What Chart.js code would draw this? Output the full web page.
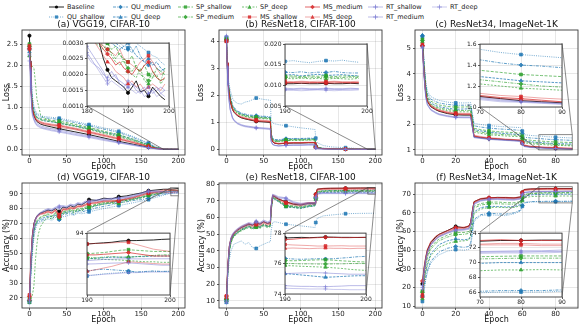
<!DOCTYPE html>
<html><head><meta charset="utf-8">
<script src="https://cdn.jsdelivr.net/npm/chart.js@4.4.1/dist/chart.umd.min.js"></script>
<style>
html,body{margin:0;padding:0;background:#fff;}
body{width:581px;height:326px;position:relative;overflow:hidden;font-family:"DejaVu Sans",sans-serif;}
canvas{position:absolute;}
.lg{position:absolute;height:10px;display:flex;align-items:center;font-size:6.5px;color:#222;white-space:nowrap;}
.lg svg{margin-right:3px;display:block;}
</style></head><body>
<div id="legend"></div>
<script>
const names = ['Baseline','QU_shallow','QU_medium','QU_deep','SP_shallow','SP_medium','SP_deep','MS_shallow','MS_medium','MS_deep','RT_shallow','RT_medium','RT_deep'];

// ---------- (a) VGG19 CIFAR-10 loss ----------
const epochsA = [0,1,2,3,4,6,8,10,15,20,30,40,60,80,100,120,140,160,170,180,190,200];
const lossA = [
 [2.70,2.10,1.55,1.15,0.95,0.80,0.72,0.66,0.60,0.57,0.53,0.49,0.42,0.35,0.27,0.19,0.12,0.05,0.02,0.004,0.0015,0.0012],
 [2.42,2.25,1.95,1.55,1.25,1.02,0.92,0.86,0.80,0.78,0.76,0.74,0.67,0.59,0.51,0.43,0.30,0.15,0.06,0.010,0.0028,0.0023],
 [2.38,2.18,1.85,1.45,1.18,0.97,0.88,0.82,0.77,0.75,0.73,0.71,0.64,0.56,0.48,0.40,0.28,0.13,0.05,0.008,0.0028,0.0022],
 [2.32,2.12,1.72,1.32,1.07,0.91,0.82,0.76,0.71,0.68,0.65,0.62,0.56,0.49,0.41,0.34,0.23,0.11,0.04,0.006,0.0029,0.0021],
 [2.50,2.32,1.82,1.32,1.06,0.89,0.81,0.77,0.73,0.71,0.69,0.67,0.60,0.52,0.43,0.35,0.24,0.10,0.04,0.006,0.0024,0.0020],
 [2.45,2.26,1.76,1.26,1.01,0.87,0.79,0.74,0.70,0.68,0.66,0.64,0.57,0.49,0.40,0.32,0.21,0.09,0.035,0.005,0.0022,0.0022],
 [2.22,2.06,2.00,1.98,1.97,1.93,1.60,1.20,0.82,0.74,0.67,0.62,0.55,0.47,0.38,0.30,0.20,0.08,0.03,0.005,0.0025,0.0019],
 [2.46,2.10,1.60,1.20,0.98,0.84,0.76,0.71,0.66,0.63,0.60,0.58,0.51,0.43,0.35,0.27,0.18,0.07,0.03,0.005,0.0024,0.0021],
 [2.40,2.05,1.55,1.15,0.95,0.82,0.74,0.69,0.64,0.61,0.58,0.56,0.49,0.41,0.33,0.25,0.16,0.07,0.025,0.005,0.0021,0.0019],
 [2.38,2.00,1.50,1.12,0.93,0.80,0.72,0.67,0.62,0.59,0.56,0.53,0.47,0.39,0.31,0.23,0.15,0.06,0.02,0.004,0.0017,0.0017],
 [2.26,1.95,1.45,1.05,0.86,0.74,0.66,0.61,0.56,0.53,0.49,0.46,0.39,0.32,0.25,0.17,0.11,0.04,0.015,0.004,0.0016,0.0015],
 [2.22,1.90,1.40,1.00,0.83,0.71,0.63,0.58,0.53,0.50,0.46,0.43,0.36,0.30,0.23,0.16,0.10,0.04,0.012,0.003,0.0017,0.0015],
 [2.10,1.85,1.35,0.98,0.80,0.69,0.61,0.56,0.51,0.48,0.44,0.41,0.34,0.28,0.21,0.15,0.09,0.03,0.010,0.003,0.0015,0.0013]
];
const epochsInA = [180,181,182,183,184,185,186,187,188,189,190,191,192,193,194,195,196,197,198,199];
const lossInA = [
 [0.0036,0.0034,0.0032,0.0030,0.0025,0.00215,0.0019,0.0018,0.0017,0.0016,0.00142,0.0016,0.0018,0.00145,0.0015,0.00131,0.0016,0.00145,0.0013,0.0012],
 [0.0040,0.0039,0.0037,0.0036,0.0034,0.0033,0.0032,0.0031,0.0030,0.0029,0.00285,0.0031,0.0030,0.0029,0.0028,0.0027,0.0026,0.00255,0.0024,0.0023],
 [0.0038,0.0037,0.0035,0.0034,0.0033,0.0032,0.0031,0.0030,0.0029,0.0028,0.0028,0.0027,0.0029,0.0026,0.0024,0.0023,0.0024,0.0022,0.0021,0.0022],
 [0.0036,0.0035,0.0034,0.0033,0.0032,0.0031,0.0030,0.0029,0.0028,0.0029,0.0030,0.0028,0.0026,0.0025,0.0024,0.0025,0.0023,0.0024,0.0022,0.0021],
 [0.0035,0.0034,0.0033,0.0032,0.0031,0.0030,0.0028,0.0029,0.0026,0.0025,0.0024,0.0026,0.0022,0.0021,0.0023,0.0020,0.0019,0.0022,0.0021,0.0020],
 [0.0034,0.0033,0.0031,0.0030,0.0029,0.0028,0.0027,0.0025,0.0027,0.0024,0.0022,0.0021,0.0023,0.0020,0.0019,0.0018,0.0021,0.0019,0.0018,0.0022],
 [0.0033,0.0032,0.0030,0.0029,0.0028,0.0030,0.0026,0.0024,0.0023,0.0025,0.0021,0.0020,0.0019,0.0022,0.0018,0.0017,0.0019,0.0020,0.0017,0.0019],
 [0.0034,0.0033,0.0032,0.0031,0.0029,0.0028,0.0027,0.0026,0.0028,0.0025,0.0024,0.0023,0.0022,0.0024,0.0025,0.0026,0.0024,0.0022,0.0020,0.0021],
 [0.0033,0.0032,0.0031,0.0030,0.0028,0.00265,0.0025,0.0023,0.0024,0.0022,0.0021,0.0020,0.0022,0.0021,0.0023,0.0024,0.0021,0.0019,0.0018,0.0019],
 [0.0032,0.0031,0.0030,0.0028,0.0026,0.0024,0.0023,0.0021,0.0020,0.0019,0.0017,0.0018,0.0016,0.0017,0.0015,0.0016,0.0017,0.0016,0.0015,0.0017],
 [0.0029,0.0027,0.0025,0.0023,0.0021,0.0018,0.0019,0.0020,0.0017,0.0016,0.0018,0.0017,0.0016,0.0015,0.0016,0.0014,0.0015,0.0016,0.0014,0.0015],
 [0.0027,0.0025,0.0023,0.0022,0.0020,0.0019,0.0021,0.0019,0.0018,0.0017,0.0016,0.0017,0.0015,0.0014,0.0015,0.0016,0.0014,0.0015,0.0016,0.0015],
 [0.0026,0.0024,0.0023,0.0021,0.0019,0.0017,0.0018,0.0017,0.0016,0.0015,0.0016,0.0015,0.0014,0.0015,0.0013,0.0014,0.0015,0.0013,0.0014,0.0013]
];

// ---------- (b) ResNet18 CIFAR-100 loss ----------
const epochsB = [0,1,2,3,5,8,10,15,20,25,30,40,50,59,60,62,65,70,80,90,100,110,119,120,122,130,140,160,180,200];
const lossB = [
 [4.05,3.2,2.6,2.2,1.78,1.48,1.38,1.24,1.17,1.13,1.1,1.04,1.02,1.0,0.44,0.29,0.23,0.21,0.23,0.24,0.24,0.25,0.25,0.085,0.05,0.033,0.025,0.017,0.012,0.0104],
 [4.0,3.4,2.9,2.5,2.2,1.9,1.8,1.7,1.68,1.75,1.78,1.9,1.85,1.82,1.1,0.98,0.95,0.92,0.88,0.84,0.8,0.77,0.74,0.42,0.25,0.15,0.1,0.07,0.03,0.016],
 [4.15,3.4,2.8,2.4,1.98,1.66,1.56,1.42,1.35,1.31,1.28,1.25,1.23,1.21,0.6,0.42,0.37,0.36,0.4,0.41,0.41,0.42,0.42,0.14,0.08,0.05,0.035,0.024,0.016,0.013],
 [4.1,3.35,2.75,2.35,1.95,1.63,1.53,1.39,1.32,1.28,1.25,1.22,1.2,1.18,0.58,0.4,0.35,0.34,0.38,0.39,0.39,0.4,0.4,0.13,0.075,0.045,0.032,0.022,0.015,0.0122],
 [4.1,3.3,2.7,2.3,1.92,1.6,1.5,1.37,1.3,1.26,1.23,1.2,1.18,1.16,0.56,0.38,0.33,0.32,0.36,0.37,0.37,0.38,0.38,0.12,0.07,0.042,0.031,0.021,0.0145,0.0122],
 [4.08,3.28,2.68,2.28,1.9,1.58,1.48,1.35,1.28,1.24,1.21,1.18,1.16,1.14,0.54,0.36,0.31,0.3,0.34,0.35,0.35,0.36,0.36,0.115,0.068,0.04,0.03,0.02,0.014,0.012],
 [4.05,3.25,2.65,2.25,1.88,1.56,1.46,1.33,1.26,1.22,1.19,1.16,1.14,1.12,0.52,0.35,0.3,0.29,0.33,0.34,0.34,0.35,0.35,0.11,0.065,0.039,0.029,0.019,0.0138,0.0117],
 [4.02,3.22,2.62,2.22,1.82,1.52,1.42,1.29,1.22,1.18,1.15,1.1,1.08,1.06,0.47,0.31,0.25,0.23,0.25,0.26,0.26,0.27,0.27,0.095,0.057,0.036,0.028,0.019,0.0132,0.0109],
 [4.0,3.2,2.6,2.2,1.8,1.5,1.4,1.26,1.19,1.15,1.12,1.07,1.05,1.03,0.45,0.3,0.24,0.22,0.24,0.25,0.25,0.26,0.26,0.09,0.055,0.035,0.027,0.018,0.013,0.0107],
 [3.98,3.18,2.58,2.18,1.79,1.49,1.39,1.25,1.18,1.14,1.11,1.05,1.03,1.01,0.44,0.29,0.235,0.215,0.235,0.245,0.245,0.255,0.255,0.088,0.053,0.034,0.026,0.0175,0.0127,0.0106],
 [4.2,3.1,2.4,1.95,1.5,1.2,1.1,0.98,0.92,0.88,0.86,0.82,0.8,0.78,0.32,0.2,0.16,0.14,0.16,0.17,0.17,0.18,0.18,0.06,0.035,0.022,0.017,0.012,0.0098,0.0092],
 [4.18,3.08,2.38,1.93,1.48,1.18,1.08,0.96,0.9,0.86,0.84,0.8,0.78,0.76,0.31,0.19,0.155,0.135,0.155,0.165,0.165,0.175,0.175,0.058,0.034,0.021,0.0165,0.0118,0.0096,0.009],
 [4.15,3.05,2.35,1.9,1.46,1.16,1.06,0.94,0.88,0.84,0.82,0.78,0.76,0.74,0.3,0.18,0.15,0.13,0.15,0.16,0.16,0.17,0.17,0.055,0.033,0.02,0.016,0.0115,0.0094,0.0088]
];
const epochsInB = [190,191,192,193,194,195,196,197,198,199];
const lossInB = [
 [0.0104,0.0104,0.0105,0.0104,0.0104,0.0105,0.0104,0.0104,0.0105,0.0104],
 [0.0158,0.0160,0.0157,0.0155,0.0158,0.0160,0.0159,0.0161,0.0158,0.0156],
 [0.0132,0.0131,0.0133,0.0130,0.0132,0.0131,0.0134,0.0131,0.0130,0.0130],
 [0.0125,0.0126,0.0123,0.0125,0.0127,0.0124,0.0125,0.0126,0.0124,0.0123],
 [0.0122,0.0123,0.0121,0.0123,0.0122,0.0124,0.0121,0.0123,0.0122,0.0122],
 [0.0119,0.0120,0.0118,0.0120,0.0119,0.0120,0.0118,0.0119,0.0120,0.0119],
 [0.0117,0.0116,0.0118,0.0116,0.0117,0.0115,0.0117,0.0116,0.0115,0.0117],
 [0.0110,0.0109,0.0110,0.0109,0.0110,0.0109,0.0110,0.0109,0.0109,0.0110],
 [0.0107,0.0107,0.0108,0.0107,0.0107,0.0107,0.0108,0.0107,0.0107,0.0107],
 [0.0105,0.0106,0.0105,0.0105,0.0106,0.0105,0.0105,0.0106,0.0105,0.0106],
 [0.0093,0.0092,0.0093,0.0092,0.0092,0.0093,0.0092,0.0092,0.0093,0.0092],
 [0.0090,0.0090,0.0091,0.0090,0.0090,0.0091,0.0090,0.0090,0.0091,0.0091],
 [0.0088,0.0088,0.0087,0.0088,0.0089,0.0088,0.0087,0.0088,0.0088,0.0089]
];

// ---------- (c) ResNet34 ImageNet-1K loss ----------
const epochsC = [0,1,2,3,5,8,10,15,20,25,29,30,31,35,40,45,50,55,59,60,61,65,70,75,80,85,90];
const lossC = [
 [5.1,4.0,3.2,2.9,2.7,2.58,2.52,2.43,2.38,2.37,2.37,1.94,1.52,1.48,1.44,1.42,1.4,1.38,1.36,1.26,1.16,1.12,1.1,1.08,1.06,1.05,1.04],
 [5.45,4.5,3.7,3.3,3.1,3.0,2.95,2.88,2.85,2.85,2.86,2.45,2.05,2.0,1.96,1.93,1.91,1.89,1.88,1.74,1.6,1.57,1.55,1.52,1.5,1.485,1.47],
 [5.5,4.4,3.6,3.2,3.0,2.9,2.85,2.79,2.76,2.76,2.77,2.36,1.95,1.9,1.86,1.83,1.81,1.79,1.77,1.64,1.5,1.47,1.45,1.42,1.40,1.39,1.375],
 [5.5,4.3,3.45,3.05,2.85,2.75,2.7,2.64,2.6,2.61,2.62,2.21,1.8,1.75,1.7,1.67,1.64,1.62,1.6,1.48,1.37,1.32,1.29,1.27,1.25,1.24,1.23],
 [5.35,4.3,3.5,3.1,2.92,2.82,2.77,2.71,2.68,2.69,2.7,2.27,1.85,1.8,1.75,1.72,1.7,1.68,1.66,1.54,1.42,1.38,1.35,1.33,1.31,1.3,1.29],
 [5.3,4.2,3.4,3.0,2.8,2.7,2.65,2.59,2.55,2.55,2.56,2.15,1.75,1.7,1.65,1.62,1.6,1.58,1.57,1.45,1.33,1.28,1.26,1.24,1.22,1.2,1.19],
 [5.25,4.15,3.35,2.95,2.76,2.66,2.61,2.54,2.5,2.5,2.5,2.1,1.7,1.65,1.6,1.57,1.55,1.53,1.52,1.4,1.29,1.24,1.22,1.2,1.18,1.17,1.16],
 [5.15,4.05,3.25,2.95,2.76,2.64,2.58,2.5,2.45,2.44,2.44,2.01,1.58,1.53,1.48,1.46,1.43,1.41,1.4,1.3,1.2,1.15,1.13,1.11,1.10,1.085,1.075],
 [5.1,4.02,3.22,2.92,2.73,2.61,2.55,2.47,2.42,2.41,2.41,1.98,1.55,1.5,1.46,1.44,1.41,1.39,1.38,1.28,1.18,1.13,1.11,1.09,1.08,1.065,1.05],
 [5.12,4.0,3.2,2.9,2.71,2.59,2.53,2.45,2.4,2.39,2.39,1.96,1.54,1.49,1.45,1.43,1.4,1.38,1.37,1.27,1.17,1.12,1.1,1.08,1.07,1.055,1.045],
 [5.05,3.9,3.1,2.8,2.6,2.48,2.42,2.35,2.3,2.3,2.3,1.9,1.5,1.47,1.43,1.41,1.39,1.37,1.35,1.25,1.15,1.11,1.09,1.07,1.055,1.045,1.035],
 [5.05,3.88,3.08,2.78,2.58,2.46,2.4,2.33,2.28,2.28,2.28,1.88,1.49,1.46,1.42,1.4,1.38,1.36,1.34,1.24,1.14,1.1,1.08,1.06,1.05,1.04,1.03],
 [5.0,3.85,3.05,2.76,2.56,2.44,2.38,2.31,2.27,2.26,2.26,1.87,1.48,1.45,1.41,1.39,1.37,1.35,1.33,1.23,1.13,1.09,1.07,1.05,1.045,1.035,1.025]
];

// ---------- (d) VGG19 CIFAR-10 accuracy ----------
const epochsD = [0,2,4,6,8,10,12,15,20,25,30,35,40,45,50,55,60,65,70,75,80,90,100,110,120,130,140,150,160,170,180,190,200];
const accD = [
 [18,45,62,70,73,75,76,77,78,79,78.5,80,78,81,80.5,82,81,83,82.5,84,86,85.5,87,86.5,88,88.5,89.5,90.5,92,92.5,93,93.05,93.48],
 [17,35,50,60,66,69,70,71,72,73,72,74,73,74.5,75,76,75.5,77,76.5,77,77.8,79,80,81,82,83,84,85,86,87.5,89,90.26,90.66],
 [18,38,54,63,68,70,71,72,73,74.5,73,75.5,72.5,76,76.5,77,76,78,77.5,78.5,79,80.5,81.5,82.5,84,84.5,85.5,86,87,88.5,89.5,90.67,90.67],
 [19,40,56,65,69,71,72,73,74,75,74.5,76,74,77,77.5,78,77.5,79,78.5,80,80.5,82,83,84,85,85.5,86.5,87.5,88.5,89.5,90.5,91.76,92.0],
 [20,42,58,66,70,72,73,74.5,75.5,76.5,75,77.5,75,78,78.5,79.5,78.5,80,80,81,81.5,83,84,84.5,85.5,86,87,88,89.5,90.5,91.5,92.2,92.4],
 [18,40,56,65,69,71,72.5,74,75,76,74.5,77,74,77.5,78,79,78,79.5,79.5,80.5,81,82.5,83.5,84,85,85.5,86.5,87.5,89,90,91,91.9,92.1],
 [17,19,22,28,45,56,63,68,72,74,73,75.5,73.5,76.5,77,78,77,79,78.5,80,80.4,82,83,83.5,83.3,85,86,87,88.5,89.5,90.5,91.8,91.45],
 [22,48,63,70,73,75,76,77,77.5,78.5,77.5,79.5,76,80,80,81,80.5,82,82,83,84.4,84.5,85.5,85.5,85,87,88,89.5,91,91.5,92.5,93.05,92.4],
 [21,47,62,69,72.5,74.5,75.5,76.5,77,78,77,79,74.4,79.5,79.5,80.5,80,81.5,81.5,82.5,83.5,84,85,85,85.5,86.5,87.5,89,90.5,91,91.8,92.1,92.0],
 [19,46,61,68,72,74,75,76,76.5,77.5,76.5,78.5,75,79,79,80,79.5,81,81,82,83,83.5,84.5,84.5,85,86,87,88.5,90,90.5,91,90.67,91.3],
 [17,44,61,69,73,75,76.5,77.5,79,80,79.5,81,81.8,82,81.5,83,82.5,84,83.5,85,85,86,86.5,87,87,88,89,90.5,92,92,91.5,91.6,91.76],
 [18,43,60,68,72.5,74.5,76,77,78.5,79.5,79,80.5,81,81.5,81,82.5,82,83.5,83,84.5,84.5,85.5,86,86.5,87,87.5,88.5,90,91.5,91.5,91.2,91.3,91.2],
 [19,42,59,67,72,74,75.5,76.5,78,79,78.5,80,80.5,81,80.5,82,81.5,83,82.5,84,84,85,85.5,86,86.5,87,88,89.5,91,91,90.5,90.3,90.6]
];
const epochsInD = [190,191,192,193,194,195,196,197,198,199,200];
const accInD = [
 [93.05,93.1,93.15,93.2,93.3,93.34,93.35,93.38,93.4,93.45,93.48],
 [90.26,90.35,90.45,90.5,90.55,90.6,90.6,90.62,90.65,90.66,90.66],
 [90.67,90.8,90.85,90.8,90.75,90.7,90.6,90.65,90.7,90.65,90.67],
 [91.76,91.8,91.85,91.9,91.9,91.9,91.95,91.95,92.0,92.0,92.0],
 [92.2,92.25,92.3,92.4,92.5,92.55,92.5,92.45,92.4,92.4,92.4],
 [91.9,91.85,91.9,91.95,91.9,91.9,91.95,92.0,92.05,92.1,92.1],
 [91.8,91.75,91.7,91.68,91.65,91.6,91.55,91.5,91.5,91.45,91.45],
 [93.05,93.1,93.1,93.15,93.18,93.2,93.0,92.8,92.6,92.5,92.4],
 [92.1,92.1,92.15,92.2,92.25,92.3,92.2,92.1,92.0,92.0,92.0],
 [90.67,90.8,90.95,91.1,91.3,91.5,91.45,91.4,91.35,91.3,91.3],
 [91.6,91.65,91.7,91.72,91.75,91.76,91.75,91.75,91.76,91.76,91.76],
 [91.3,91.32,91.35,91.38,91.4,91.4,91.35,91.3,91.25,91.2,91.2],
 [90.3,90.35,90.4,90.45,90.5,90.55,90.55,90.6,90.6,90.6,90.6]
];

// ---------- (e) ResNet18 CIFAR-100 accuracy ----------
const epochsE = [0,2,4,6,8,10,15,20,25,30,35,40,45,50,55,59,60,62,65,70,80,90,100,110,119,120,122,130,140,160,180,200];
const accE = [
 [11,32,43,47,49,50.5,52.5,54,55,56,55.5,57,56,57.5,56.5,57,66,73,72.5,71,69.5,68,67.5,68.5,68.5,74,77,77.4,77.5,77.6,77.7,77.72],
 [10,25,35,40,42,44,45,46,44,45,42,41.5,43,44,45,45.5,52,57,57.5,57,56,55.5,55,54.5,54,57,59.5,61,61.5,62.3,62.5,62.6],
 [10,30,41,46,48,49.5,51.5,53,54,55,54,55,54.5,56,55,55.5,64,72,71.5,70,67,66.5,66,67,67.5,72,75.5,76,76.2,76.3,76.4,76.47],
 [9,29,40,45,47.5,49,51,52.5,53.5,54.5,53.5,54.5,54,55.5,54.5,55,63.5,71.5,71,69.5,66.4,66,65.5,66.5,67,71,74.5,75,75.1,75.2,75.2,75.2],
 [12,30,41,45.5,48,49.5,51.5,53,54,55,54,54.5,54.5,56,55,55.5,64,72.5,72,70.5,67.4,67,66.5,67.5,68,72,75.5,76,76.1,76.1,76.1,76.1],
 [11,29.5,40.5,45,47.5,49,51,52.5,53.5,54.5,53.5,54.5,54,55.5,54.5,55,63.5,72,71.5,70,67,66.5,66,67,67.5,71.5,75.3,75.8,75.9,76,76,76.0],
 [10,29,40,44.5,47,48.5,50.5,52,53,54,53,54,53.5,55,54,54.5,63,71.5,71,69.5,66.5,66,65.5,66.5,67,71,75,75.5,75.5,75.6,75.6,75.55],
 [13,32,43,47,49,50.5,52.5,54,55,56,55,56.5,55.5,57,56,56.5,65.5,73,72.5,71,69,68,67.5,68.5,68.5,73.5,76.5,77,77.1,77.2,77.2,77.15],
 [13,32.5,43.5,47.5,49.5,51,53,54.5,55.5,56.5,55.5,56,56.5,57.5,56.5,57,66,73.5,73,71.5,69,68.5,68,69,69,74,77,77.5,77.6,77.6,77.7,77.72],
 [12,31.5,42.5,46.5,48.5,50,52,53.5,54.5,55.5,54.5,55.5,55,56.5,55.5,56,65,72.5,72,70.5,68.5,67.5,67,68,68,73,76.3,76.8,76.9,77,77,77.0],
 [9,31,43,48,50,51.5,53.5,55,56,57,56.5,58,57,58.5,57.5,58,67,74,73.5,72.5,71.8,69.5,68.5,69,69,72.5,74.8,75.1,75.2,75.3,75.3,75.3],
 [10,31,42.5,47.5,49.5,51,53,54.5,55.5,56.5,56,57.5,56.5,58,57,57.5,66.5,73.5,73,72,71.5,69,68,68.5,68.5,72,74.3,74.5,74.5,74.5,74.55,74.55],
 [9.5,30.5,42,47,49,50.5,52.5,54,55,56,55.5,57,56,57.5,56.5,57,66,73,72.5,71.5,71,68.5,67.5,68,68,71.5,74,74.3,74.3,74.3,74.3,74.28]
];
const epochsInE = [190,191,192,193,194,195,196,197,198,199,200];
const accInE = [
 [77.68,77.7,77.72,77.7,77.72,77.74,77.73,77.72,77.72,77.71,77.72],
 [62.5,62.55,62.5,62.6,62.55,62.6,62.6,62.55,62.6,62.6,62.6],
 [76.34,76.3,76.28,76.3,76.32,76.3,76.32,76.36,76.4,76.45,76.47],
 [75.34,75.3,75.25,75.2,75.15,75.1,75.12,75.15,75.18,75.2,75.2],
 [76.2,76.18,76.2,76.22,76.24,76.25,76.22,76.18,76.15,76.12,76.1],
 [76.0,76.0,75.98,75.98,75.97,75.97,75.98,75.98,76.0,76.0,76.0],
 [75.87,75.85,75.82,75.8,75.78,75.76,75.72,75.68,75.62,75.58,75.55],
 [77.25,77.22,77.2,77.18,77.15,77.15,77.16,77.17,77.15,77.15,77.15],
 [77.57,77.6,77.65,77.68,77.7,77.72,77.72,77.7,77.7,77.72,77.72],
 [77.0,77.02,77.0,76.98,77.0,77.02,77.0,77.0,76.98,77.0,77.0],
 [75.34,75.36,75.38,75.4,75.4,75.38,75.35,75.33,75.3,75.3,75.3],
 [74.55,74.52,74.5,74.5,74.48,74.48,74.5,74.52,74.55,74.55,74.55],
 [74.38,74.36,74.35,74.33,74.33,74.33,74.3,74.3,74.28,74.28,74.28]
];

// ---------- (f) ResNet34 ImageNet-1K accuracy ----------
const epochsF = [0,1,2,3,5,8,10,15,20,25,28,29,30,31,35,40,45,50,55,59,60,61,65,70,75,80,85,90];
const accF = [
 [22,30,36,40,44,47,48.5,50.5,52.7,52,53,55,61,66,67.5,68,68.3,68.2,68,68.5,71,72.5,72.8,72.9,73.0,73.0,73.05,73.05],
 [12.5,18,24,28,33,36,37.5,39.5,40.3,40,40.5,42.5,48,55.5,58.5,59,58.7,58.5,59.5,61,63.5,65.2,65.8,65.9,66,66.0,66.0,66.1],
 [15,20,25,29,34,37,39,41,42,41.5,42,44,50,56.5,59,59.8,59.5,59.3,60,61.5,64,65.5,66,66.1,66.2,66.2,66.2,66.3],
 [16,23,29,33,38,41,43,45,46,45.5,46,48,54,60.5,62.8,63.5,63.4,63.2,63.3,64.5,67,68.8,69.6,69.9,70,70.0,70.0,70.0],
 [18,27,33,37,41.5,44.5,46,48,49.5,49.5,50,52,58,63.5,65,65.7,65.8,65.5,65.4,66,68.5,69.8,70.5,70.8,70.85,70.9,70.9,70.9],
 [17.5,26,32,36,40.5,43.5,45,47,48.3,48.5,49,51,57,62.5,64.2,64.8,64.9,64.7,64.6,65.3,68,69.5,70.2,70.5,70.55,70.6,70.6,70.6],
 [14,22,28,32,37,40,41.5,43.5,44.7,45,45.5,47.5,53,59.5,62,62.9,63,62.8,62.9,63.8,66.5,68,68.7,68.9,69,69.0,69.05,69.0],
 [16,27,34,38.5,43,46,47.5,49.5,51.5,51.5,52,54,60,65.5,67,67.6,67.8,67.7,67.5,68,70.5,72,72.3,72.4,72.4,72.4,72.3,72.3],
 [23.5,31,36.5,40.5,44.5,47.5,48.5,50.5,52.2,52.3,53,55,61,66,67.7,68.2,68.2,68.3,68.1,68.6,71,72.5,72.8,73,73.1,73.0,73.0,73.0],
 [15,27,34,38.5,43.5,46.5,48,50,51.8,51.8,52.5,54.5,60.5,65.5,67.2,67.8,67.9,67.8,67.6,68.1,70.5,72,72.4,72.5,72.6,72.6,72.5,72.5],
 [20,29,35,39,43,46,47.5,49.5,51,51.2,51.8,54,60,65,66.8,67.5,67.6,67.4,67.3,67.8,70,71,71.4,71.5,71.55,71.6,71.6,71.7],
 [21,29,35,39,43,45.8,47.2,49.2,50.7,51,51.5,53.5,59.5,64.8,66.5,67.2,67.3,67.1,67,67.5,69.8,70.9,71.3,71.4,71.45,71.45,71.5,71.5],
 [19,28,34.5,38.5,42.5,45.5,47,49,50.4,50.7,51.2,53,59,64.5,66.3,67,67.1,66.9,66.8,67.3,69.6,70.7,71.1,71.25,71.3,71.3,71.3,71.4]
];

// tick labels
const ticksX200 = [0,50,100,150,200];
const ticksX90 = [0,20,40,60,80];
const ticksYA = [0,0.5,1,1.5,2,2.5];
const ticksYB = [0,1,2,3,4];
const ticksYC = [1,2,3,4,5];
const ticksYD = [20,30,40,50,60,70,80,90];
const ticksYE = [10,20,30,40,50,60,70,80];
const ticksYF = [10,20,30,40,50,60,70];
const ticksInAx = [180,190,200], ticksInAy = [0.001,0.0015,0.002,0.0025,0.003];
const ticksInBx = [190,200], ticksInBy = [0.005,0.01,0.015,0.02];
const ticksInCx = [70,80,90], ticksInCy = [1.0,1.2,1.4,1.6];
const ticksInDx = [190,200], ticksInDy = [94];
const ticksInEx = [190,200], ticksInEy = [74,76,78];
const ticksInFx = [70,80,90], ticksInFy = [66,68,70,72,74];

// ---------- styles ----------
const STY = {
 Baseline:  {c:'0,0,0',       a:0.85, ma:0.95,dash:[],            pt:'circle'},
 QU_shallow:{c:'31,119,180',  a:0.6,  ma:0.85,dash:[1,1.2],       pt:'rect'},
 QU_medium: {c:'31,119,180',  a:0.7,  ma:0.85,dash:[3,1.2,1,1.2], pt:'rectRot'},
 QU_deep:   {c:'31,119,180',  a:0.75, ma:0.85,dash:[2.5,1.2],     pt:'triangle'},
 SP_shallow:{c:'44,160,44',   a:0.65, ma:0.85,dash:[3,1.5],       pt:'rect'},
 SP_medium: {c:'44,160,44',   a:0.65, ma:0.85,dash:[3,1.2,1,1.2], pt:'rectRot'},
 SP_deep:   {c:'44,160,44',   a:0.65, ma:0.85,dash:[2,1.5],       pt:'triangle'},
 MS_shallow:{c:'214,39,40',   a:0.4,  ma:0.85,dash:[],            pt:'rect'},
 MS_medium: {c:'214,39,40',   a:0.7,  ma:0.85,dash:[],            pt:'rectRot'},
 MS_deep:   {c:'214,39,40',   a:0.4,  ma:0.85,dash:[],            pt:'triangle'},
 RT_shallow:{c:'120,120,210', a:0.5,  ma:0.75,dash:[],            pt:'cross'},
 RT_medium: {c:'120,120,210', a:0.5,  ma:0.75,dash:[],            pt:'cross'},
 RT_deep:   {c:'120,120,210', a:0.4,  ma:0.65,dash:[],            pt:'cross'}
};
const GRID = 'rgba(0,0,0,0.12)';
Chart.defaults.font.family = '"DejaVu Sans", sans-serif';
Chart.defaults.color = '#222';

function mkCanvas(l,t,w,h){
  const c=document.createElement('canvas');
  c.width=w; c.height=h;
  c.style.left=l+'px'; c.style.top=t+'px'; c.style.width=w+'px'; c.style.height=h+'px';
  document.body.appendChild(c); return c;
}

function buildDatasets(epochs, rows, marks){
  return names.map((n,i)=>{
    const s=STY[n];
    const r = s.pt==='circle' ? 1.6 : 2.0;
    return {
      label:n,
      data: epochs.map((e,j)=>({x:e,y:rows[i][j]})),
      borderColor:`rgba(${s.c},${s.a})`,
      backgroundColor:`rgba(${s.c},${s.ma})`,
      pointBorderColor:`rgba(${s.c},${s.ma})`,
      pointBackgroundColor:`rgba(${s.c},${s.ma})`,
      borderWidth:1, borderDash:s.dash, pointStyle:s.pt,
      pointRadius:(c)=> (c.raw && marks.includes(c.raw.x)) ? r : 0,
      pointHoverRadius:0, pointBorderWidth:0.8, tension:0, fill:false, clip:0, order:-i
    };
  });
}

const framePlugin = {
  id:'frame',
  beforeDraw(chart,args,o){
    if(!o.fill) return;
    const a=chart.chartArea, c=chart.ctx;
    c.save(); c.fillStyle='#fff'; c.fillRect(a.left,a.top,a.right-a.left,a.bottom-a.top); c.restore();
  },
  afterDatasetsDraw(chart,args,o){
    const c=chart.ctx, a=chart.chartArea;
    c.save();
    if(o.rect){
      const xs=chart.scales.x, ys=chart.scales.y, r=o.rect;
      const x0=xs.getPixelForValue(r.x0), x1=xs.getPixelForValue(r.x1);
      const yb=ys.getPixelForValue(r.y0), yt=ys.getPixelForValue(r.y1);
      c.strokeStyle='rgba(60,60,60,0.75)'; c.lineWidth=0.8;
      c.strokeRect(x0,yt,x1-x0,yb-yt);
      const ins=o.inset, ox=o.off[0], oy=o.off[1];
      const il=ins.fl-ox, it=ins.ft-oy, ir=ins.fr-ox, ib=ins.fb-oy;
      c.beginPath();
      if(r.corners==='LLUR'){ c.moveTo(il,ib); c.lineTo(x0,yb); c.moveTo(ir,it); c.lineTo(x1,yt); }
      else { c.moveTo(il,it); c.lineTo(x0,yt); c.moveTo(ir,ib); c.lineTo(x1,yb); }
      c.stroke();
    }
    c.strokeStyle='#3a3a3a'; c.lineWidth=0.9;
    c.strokeRect(a.left,a.top,a.right-a.left,a.bottom-a.top);
    c.restore();
  }
};

function scaleCfg(min,max,ticks,fmt,size,axisTitle,fitFn,pad){
  return {
    type:'linear', min, max,
    afterBuildTicks:s=>{ s.ticks=ticks.map(v=>({value:v})); },
    afterFit:fitFn,
    ticks:{font:{size},color:'#222',padding:pad,maxRotation:0,minRotation:0,autoSkip:false,callback:fmt},
    grid:{color:GRID,lineWidth:0.8,tickLength:2,tickColor:'#333'},
    border:{display:false},
    title: axisTitle ? {display:true,text:axisTitle,font:{size:8},color:'#111',padding:0} : {display:false}
  };
}

function mainChart(p){
  const titleH=11, xH=17, rp=10;
  const left=p.fl-p.yW, top=p.ft-titleH, w=p.fr+rp-left, h=p.fb+xH-top;
  const cv=mkCanvas(left,top,w,h);
  return new Chart(cv,{
    type:'line',
    data:{datasets:buildDatasets(p.epochs,p.rows,p.marks)},
    options:{
      responsive:false, animation:false, devicePixelRatio:1, events:[],
      layout:{padding:{left:0,right:rp,top:0,bottom:0}},
      plugins:{
        legend:{display:false}, tooltip:{enabled:false},
        title:{display:true,text:p.title,fullSize:false,padding:0,color:'#111',font:{size:9,weight:'normal',lineHeight:11/9}},
        frame:{rect:p.rect,inset:p.inset,off:[left,top]}
      },
      scales:{
        x:scaleCfg(p.xmin,p.xmax,p.xt,v=>String(v),7,'Epoch',s=>{s.height=xH;},0),
        y:scaleCfg(p.ymin,p.ymax,p.yt,p.yfmt,7,p.ylabel,s=>{s.width=p.yW;},2)
      }
    },
    plugins:[framePlugin]
  });
}

function insetChart(p){
  const xH=9, rp=7, tp=4;
  const left=p.fl-p.yW, top=p.ft-tp, w=p.fr+rp-left, h=p.fb+xH-top;
  const cv=mkCanvas(left,top,w,h);
  return new Chart(cv,{
    type:'line',
    data:{datasets:buildDatasets(p.epochs,p.rows,p.marks)},
    options:{
      responsive:false, animation:false, devicePixelRatio:1, events:[],
      layout:{padding:{left:0,right:rp,top:tp,bottom:0}},
      plugins:{legend:{display:false},tooltip:{enabled:false},frame:{fill:true}},
      scales:{
        x:scaleCfg(p.xmin,p.xmax,p.xt,v=>String(v),6,null,s=>{s.height=xH;},0),
        y:scaleCfg(p.ymin,p.ymax,p.yt,p.yfmt,6,null,s=>{s.width=p.yW;},1.5)
      }
    },
    plugins:[framePlugin]
  });
}

// inset frames (page px)
const insA={fl:87,ft:42,fr:169,fb:106}, insB={fl:285,ft:43,fr:367,fb:106}, insC={fl:480,ft:43,fr:562,fb:107};
const insD={fl:87,ft:232,fr:170,fb:295}, insE={fl:285,ft:232,fr:366,fb:294}, insF={fl:480,ft:232,fr:562,fb:297};
const marks200=[0,40,80,120,160], marks90=[0,20,40,60,80];

mainChart({fl:22,ft:30,fr:185,fb:155,yW:20,title:'(a) VGG19, CIFAR-10',ylabel:'Loss',xmin:-10,xmax:209,ymin:-0.134,ymax:2.835,xt:ticksX200,yt:ticksYA,yfmt:v=>v.toFixed(1),epochs:epochsA,rows:lossA,marks:marks200,rect:{x0:180,x1:200,y0:0.001,y1:0.003,corners:'LLUR'},inset:insA});
mainChart({fl:219,ft:30,fr:382,fb:155,yW:23,title:'(b) ResNet18, CIFAR-100',ylabel:'Loss',xmin:-10,xmax:209,ymin:-0.2,ymax:4.41,xt:ticksX200,yt:ticksYB,yfmt:v=>String(v),epochs:epochsB,rows:lossB,marks:marks200,rect:{x0:190,x1:200,y0:0.005,y1:0.02,corners:'LLUR'},inset:insB});
mainChart({fl:415,ft:30,fr:578,fb:155,yW:19,title:'(c) ResNet34, ImageNet-1K',ylabel:'Loss',xmin:-4.45,xmax:93.45,ymin:0.8,ymax:5.72,xt:ticksX90,yt:ticksYC,yfmt:v=>String(v),epochs:epochsC,rows:lossC,marks:marks90,rect:{x0:70,x1:90,y0:1.0,y1:1.6,corners:'LLUR'},inset:insC});
mainChart({fl:22,ft:183,fr:185,fb:308,yW:20,title:'(d) VGG19, CIFAR-10',ylabel:'Accuracy (%)',xmin:-10,xmax:209,ymin:13.2,ymax:97.2,xt:ticksX200,yt:ticksYD,yfmt:v=>String(v),epochs:epochsD,rows:accD,marks:marks200,rect:{x0:190,x1:200,y0:88.6,y1:94,corners:'ULLR'},inset:insD});
mainChart({fl:219,ft:183,fr:382,fb:308,yW:22,title:'(e) ResNet18, CIFAR-100',ylabel:'Accuracy (%)',xmin:-10,xmax:209,ymin:5.8,ymax:80.7,xt:ticksX200,yt:ticksYE,yfmt:v=>String(v),epochs:epochsE,rows:accE,marks:marks200,rect:{x0:190,x1:200,y0:74,y1:78,corners:'ULLR'},inset:insE});
mainChart({fl:415,ft:183,fr:578,fb:308,yW:19,title:'(f) ResNet34, ImageNet-1K',ylabel:'Accuracy (%)',xmin:-4.45,xmax:93.45,ymin:9.0,ymax:76.0,xt:ticksX90,yt:ticksYF,yfmt:v=>String(v),epochs:epochsF,rows:accF,marks:marks90,rect:{x0:70,x1:90,y0:65.33,y1:74,corners:'ULLR'},inset:insF});

insetChart({...insA,yW:26,xmin:180,xmax:200,ymin:0.001,ymax:0.003,xt:ticksInAx,yt:ticksInAy,yfmt:v=>v.toFixed(4),epochs:epochsInA,rows:lossInA,marks:[180,185,190,195]});
insetChart({...insB,yW:22,xmin:190,xmax:200,ymin:0.005,ymax:0.02,xt:ticksInBx,yt:ticksInBy,yfmt:v=>v.toFixed(3),epochs:epochsInB,rows:lossInB,marks:[190,195]});
insetChart({...insC,yW:16,xmin:70,xmax:90,ymin:1.0,ymax:1.6,xt:ticksInCx,yt:ticksInCy,yfmt:v=>v.toFixed(1),epochs:epochsC,rows:lossC,marks:[80]});
insetChart({...insD,yW:12,xmin:190,xmax:200,ymin:88.6,ymax:94,xt:ticksInDx,yt:ticksInDy,yfmt:v=>String(v),epochs:epochsInD,rows:accInD,marks:[190,195]});
insetChart({...insE,yW:12,xmin:190,xmax:200,ymin:74,ymax:78,xt:ticksInEx,yt:ticksInEy,yfmt:v=>String(v),epochs:epochsInE,rows:accInE,marks:[190,195]});
insetChart({...insF,yW:12,xmin:70,xmax:90,ymin:65.33,ymax:74,xt:ticksInFx,yt:ticksInFy,yfmt:v=>String(v),epochs:epochsF,rows:accF,marks:[80]});

// ---------- shared legend (html text) ----------
const legX=[49,113,178,242,305,368,432], legY=[6.5,16.5];
function markerSvg(pt,col){
  switch(pt){
    case 'circle': return `<circle cx="7.5" cy="4" r="1.6" fill="${col}"/>`;
    case 'rect': return `<rect x="5.9" y="2.4" width="3.2" height="3.2" fill="${col}"/>`;
    case 'rectRot': return `<polygon points="7.5,1.8 9.7,4 7.5,6.2 5.3,4" fill="${col}"/>`;
    case 'triangle': return `<polygon points="7.5,1.8 9.6,5.7 5.4,5.7" fill="${col}"/>`;
    default: return `<path d="M7.5 1.6V6.4M5.1 4H9.9" stroke="${col}" stroke-width="1"/>`;
  }
}
const lg=document.getElementById('legend');
names.forEach((n,k)=>{
  const s=STY[n], col=Math.floor(k/2), row=k%2;
  const d=document.createElement('div'); d.className='lg';
  d.style.left=legX[col]+'px'; d.style.top=(legY[row]-5)+'px';
  const lc=`rgba(${s.c},${s.a})`, mc=`rgba(${s.c},${s.ma})`;
  d.innerHTML=`<svg width="15" height="8" viewBox="0 0 15 8"><line x1="0" y1="4" x2="15" y2="4" stroke="${lc}" stroke-width="1" ${s.dash.length?`stroke-dasharray="${s.dash.join(' ')}"`:''}/>${markerSvg(s.pt,mc)}</svg><span>${n}</span>`;
  lg.appendChild(d);
});
</script>
</body></html>
